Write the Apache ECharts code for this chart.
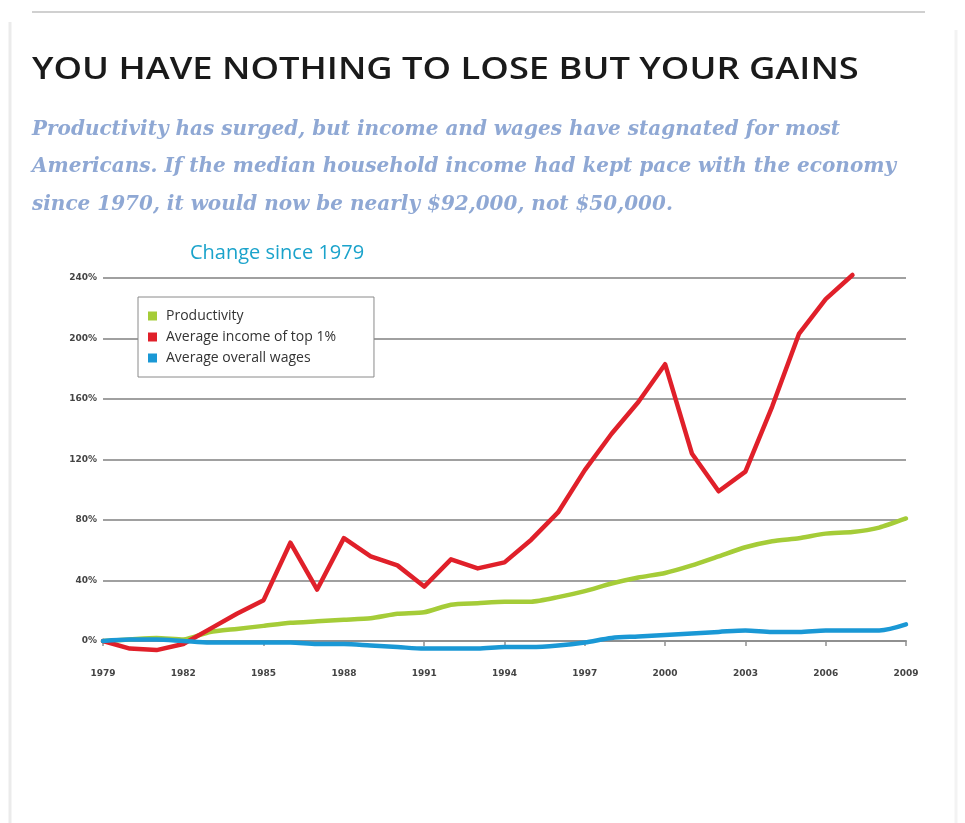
<!DOCTYPE html>
<html>
<head>
<meta charset="utf-8">
<script src="https://cdn.jsdelivr.net/npm/echarts@6/dist/echarts.min.js"></script>
<style>
html,body{margin:0;padding:0;background:#fff;}
#chart{width:965px;height:823px;}
</style>
</head>
<body>
<div id="chart"></div>
<script>
var years = ['1979','1980','1981','1982','1983','1984','1985','1986','1987','1988','1989','1990','1991','1992','1993','1994','1995','1996','1997','1998','1999','2000','2001','2002','2003','2004','2005','2006','2007','2008','2009'];
var productivity = [0,1,2,1,6,8,10,12,13,14,15,18,19,24,25,26,26,29,33,38,42,45,50,56,62,66,68,71,72,75,81];
var topIncome = [0,-5,-6,-2,8,18,27,65,34,68,56,50,36,54,48,52,67,85,113,137,158,183,124,99,112,155,203,226,242,null,null];
var wages = [0,1,1,0,-1,-1,-1,-1,-2,-2,-3,-4,-5,-5,-5,-4,-4,-3,-1,2,3,4,5,6,7,6,6,7,7,7,11];
var seriesNames = ['Productivity','Average income of top 1%','Average overall wages'];

var chart = echarts.init(document.getElementById('chart'));
var subFont = 'italic bold 20px "DejaVu Serif"';
var option = {
  backgroundColor: '#ffffff',
  animation: false,
  graphic: [
    {type:'line', shape:{x1:32,y1:12,x2:925,y2:12}, style:{stroke:'#d0d0d0', lineWidth:2}},
    {type:'line', shape:{x1:10,y1:22,x2:10,y2:823}, style:{stroke:'#ebebeb', lineWidth:3}},
    {type:'line', shape:{x1:956,y1:30,x2:956,y2:823}, style:{stroke:'#f3f3f3', lineWidth:3}},
    {type:'text', x:32, y:55, scaleX:1.21, style:{text:'YOU HAVE NOTHING TO LOSE BUT YOUR GAINS', fill:'#1a1a1a', font:'600 30px "Open Sans"'}},
    {type:'text', left:32, top:120, style:{text:'Productivity has surged, but income and wages have stagnated for most', fill:'#8fa8d4', font:subFont}},
    {type:'text', left:32, top:157, style:{text:'Americans. If the median household income had kept pace with the economy', fill:'#8fa8d4', font:subFont}},
    {type:'text', left:32, top:195, style:{text:'since 1970, it would now be nearly $92,000, not $50,000.', fill:'#8fa8d4', font:subFont}},
    {type:'text', left:190, top:243, style:{text:'Change since 1979', fill:'#1ba3cb', font:'20px "Open Sans"'}}
  ],
  legend: {
    orient: 'vertical',
    left: 138,
    top: 297,
    data: seriesNames,
    icon: 'rect',
    itemWidth: 9,
    itemHeight: 9,
    itemGap: 7,
    padding: [12, 38, 12, 10],
    backgroundColor: '#ffffff',
    borderColor: '#8a8a8a',
    borderWidth: 1,
    textStyle: {fontFamily: '"Open Sans"', fontSize: 14, color: '#333', padding: [0, 0, 0, 4]}
  },
  grid: {left: 103, right: 59, top: 278, bottom: 182, containLabel: false},
  xAxis: {
    type: 'category',
    data: years,
    boundaryGap: false,
    offset: 19,
    axisLine: {lineStyle: {color: '#909090', width: 2}},
    axisTick: {interval: 2, length: 5, lineStyle: {color: '#909090', width: 1.5}},
    axisLabel: {interval: 2, color: '#444', fontSize: 9, fontWeight: 'bold', fontFamily: '"DejaVu Sans"', margin: 9},
    splitLine: {show: false}
  },
  yAxis: {
    type: 'value',
    min: 0,
    max: 240,
    interval: 40,
    axisLine: {show: false},
    axisTick: {show: false},
    axisLabel: {formatter: '{value}%', color: '#444', fontSize: 9, fontWeight: 'bold', fontFamily: '"DejaVu Sans"', margin: 6},
    splitLine: {lineStyle: {color: ['#ecc4b4','#a0a0a0','#a0a0a0','#a0a0a0','#a0a0a0','#a0a0a0','#a0a0a0'], width: 2}}
  },
  series: [
    {name: seriesNames[0], type: 'line', data: productivity, clip: false, symbol: 'none', smooth: 0.2, color: '#a5cc38', lineStyle: {width: 4.5, color: '#a5cc38', cap: 'round', join: 'round'}},
    {name: seriesNames[1], type: 'line', data: topIncome, clip: false, symbol: 'none', smooth: false, color: '#e0202a', lineStyle: {width: 4.5, color: '#e0202a', cap: 'round', join: 'round'}},
    {name: seriesNames[2], type: 'line', data: wages, clip: false, symbol: 'none', smooth: 0.3, color: '#1a98d5', lineStyle: {width: 4.5, color: '#1a98d5', cap: 'round', join: 'round'}}
  ]
};
chart.setOption(option);
</script>
</body>
</html>
